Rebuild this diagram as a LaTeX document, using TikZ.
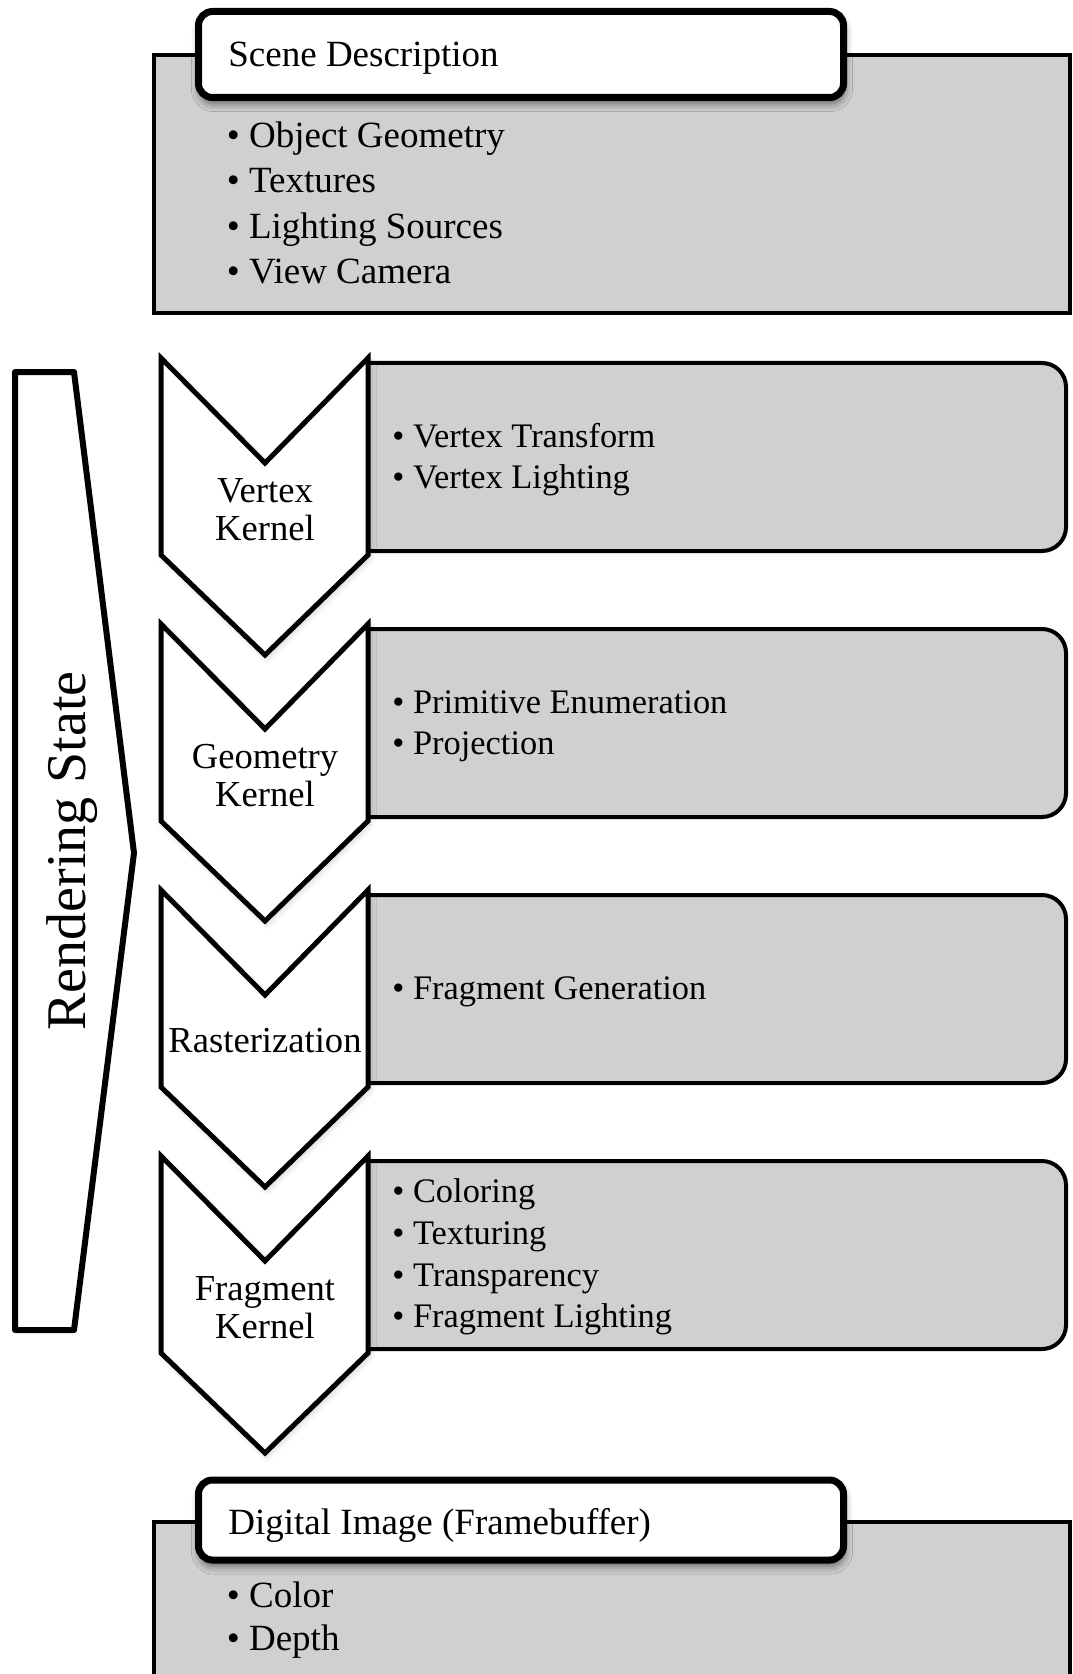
\documentclass[tikz,border=0pt]{standalone}
\usepackage{fontspec}
\setmainfont{Liberation Serif}
\usetikzlibrary{shadows.blur}
\definecolor{boxgray}{RGB}{208,208,208}
\tikzset{
  panel/.style={draw=black, fill=boxgray, line width=2pt},
  headbox/.style={draw=black, fill=white, line width=3.5pt, rounded corners=7pt,
    minimum width=322.5pt, minimum height=43pt, inner sep=0pt,
    blur shadow={shadow xshift=0.5pt, shadow yshift=-3pt, shadow blur radius=4pt, shadow opacity=55}},
  chevron/.style={draw=black, fill=white, line width=2.5pt,
    blur shadow={shadow xshift=1pt, shadow yshift=-1.5pt, shadow blur radius=3pt, shadow opacity=20}},
  statebar/.style={draw=black, fill=white, line width=3pt, line join=round},
  headtxt/.style={anchor=base west, inner sep=0pt, font=\fontsize{18.5pt}{18.5pt}\selectfont},
  bigitem/.style={anchor=base west, inner sep=0pt, font=\fontsize{18.5pt}{18.5pt}\selectfont},
  item/.style={anchor=base west, inner sep=0pt, font=\fontsize{17.2pt}{17.2pt}\selectfont},
  kernlabel/.style={anchor=base, inner sep=0pt, font=\fontsize{18.3pt}{18.3pt}\selectfont},
}
\begin{document}
\begin{tikzpicture}[x=0.5pt, y=-0.5pt]
\useasboundingbox (0,0) rectangle (1072,1674);
\clip (0,0) rectangle (1072,1674);

% ---- scene description (input) ----
\draw[panel] (154,55) rectangle (1069.5,313);
\node[headbox] (scenehead) at (521,54.5) {};
\node[headtxt] (scenetitle) at (228,67) {Scene Description};
\node[bigitem] (sd1) at (226.5,148) {\textbullet\ Object Geometry};
\node[bigitem] (sd2) at (226.5,193) {\textbullet\ Textures};
\node[bigitem] (sd3) at (226.5,238.5) {\textbullet\ Lighting Sources};
\node[bigitem] (sd4) at (226.5,283.5) {\textbullet\ View Camera};

% ---- rendering state bar ----
\draw[statebar] (15,372) -- (74,372) -- (134,853) -- (74,1330) -- (15,1330) -- cycle;
\node[anchor=base, inner sep=0pt, rotate=90, font=\fontsize{28pt}{28pt}\selectfont]
  (rstate) at (85,851) {Rendering State};

% ---- pipeline stages: detail panels, then chevrons on top ----
\foreach \t in {358,624,890,1156} {
  \begin{scope}
    \clip (366,\t) rectangle (1080,\t+200);
    \draw[panel, rounded corners=12pt] (330,\t+5) rectangle (1066,\t+193);
  \end{scope}
}
\foreach \t in {358,624,890,1156} {
  \draw[chevron] (161,\t) -- (265,\t+105) -- (368,\t) -- (368,\t+197)
    -- (265,\t+297) -- (161,\t+197) -- cycle;
}

% stage names
\node[kernlabel] (vk1) at (265,502) {Vertex};
\node[kernlabel] (vk2) at (265,540) {Kernel};
\node[kernlabel] (gk1) at (265,768) {Geometry};
\node[kernlabel] (gk2) at (265,806) {Kernel};
\node[kernlabel] (rz1) at (265,1052) {Rasterization};
\node[kernlabel] (fk1) at (265,1300) {Fragment};
\node[kernlabel] (fk2) at (265,1338) {Kernel};

% stage details
\node[item] (v1) at (392,447) {\textbullet\ Vertex Transform};
\node[item] (v2) at (392,488) {\textbullet\ Vertex Lighting};
\node[item] (g1) at (392,713) {\textbullet\ Primitive Enumeration};
\node[item] (g2) at (392,754) {\textbullet\ Projection};
\node[item] (r1) at (392,999) {\textbullet\ Fragment Generation};
\node[item] (f1) at (392,1202) {\textbullet\ Coloring};
\node[item] (f2) at (392,1244) {\textbullet\ Texturing};
\node[item] (f3) at (392,1286) {\textbullet\ Transparency};
\node[item] (f4) at (392,1327.5) {\textbullet\ Fragment Lighting};

% ---- digital image (output) ----
\draw[panel] (154,1521.5) rectangle (1069.5,1720);
\node[headbox, minimum height=40pt] (imghead) at (521,1520) {};
\node[headtxt] (imgtitle) at (228,1534) {Digital Image (Framebuffer)};
\node[bigitem] (di1) at (226.5,1607) {\textbullet\ Color};
\node[bigitem] (di2) at (226.5,1650) {\textbullet\ Depth};
\end{tikzpicture}
\end{document}
